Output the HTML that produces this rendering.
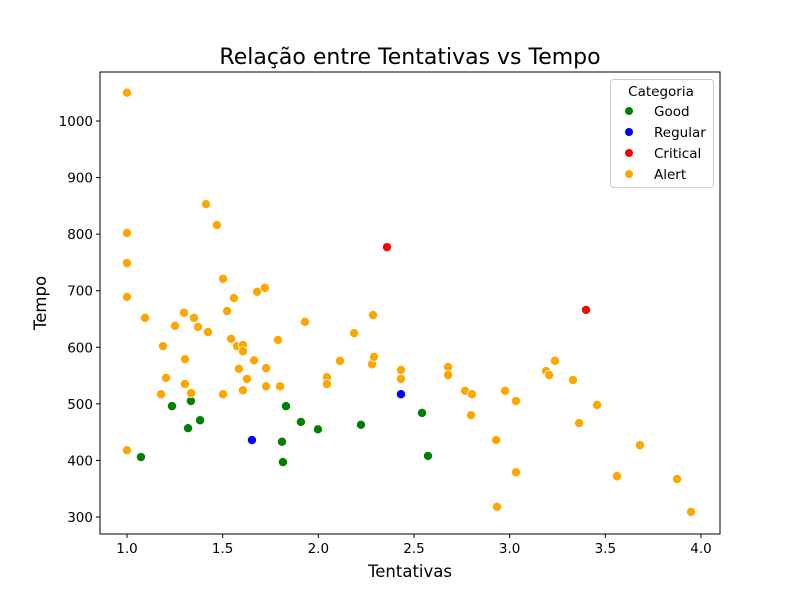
<!DOCTYPE html>
<html><head><meta charset="utf-8"><style>
body{margin:0;background:#fff;}
svg{display:block;font-family:"DejaVu Sans","Liberation Sans",sans-serif;}
</style></head><body>
<svg id="chart" width="800" height="600"></svg>
<script>
const goodX=[1.073,1.235,1.319,1.334,1.382,1.810,1.831,1.815,1.909,1.998,2.223,2.542,2.573];
const goodY=[406,496,457,505,471,433,496,397,468,455,463,484,408];
const regularX=[1.653,2.432];
const regularY=[436,517];
const criticalX=[2.359,3.399];
const criticalY=[777,666];
const alertX=[1.0,1.0,1.0,1.0,1.0,1.094,1.178,1.188,1.204,1.251,1.298,1.303,1.303,1.335,1.350,1.371,1.413,1.423,1.470,1.502,1.502,1.523,1.544,1.559,1.575,1.585,1.606,1.606,1.606,1.627,1.664,1.680,1.721,1.727,1.727,1.789,1.800,1.930,2.045,2.045,2.113,2.187,2.286,2.281,2.291,2.432,2.432,2.678,2.678,2.767,2.803,2.798,2.929,2.934,2.976,3.033,3.033,3.190,3.206,3.237,3.331,3.363,3.457,3.561,3.681,3.875,3.948];
const alertY=[1050,802,749,689,418,652,517,602,546,638,661,579,535,519,652,636,853,627,816,721,517,664,615,687,602,562,604,593,524,544,577,698,705,563,531,613,531,645,547,535,576,625,657,570,583,560,544,565,551,523,517,480,436,318,523,505,379,558,551,576,542,466,498,372,427,367,309];
const xTicks=[1.0,1.5,2.0,2.5,3.0,3.5,4.0];
const yTicks=[300,400,500,600,700,800,900,1000];
const series=[
 {name:'Good',color:'#008000',xs:goodX,ys:goodY},
 {name:'Regular',color:'#0000ff',xs:regularX,ys:regularY},
 {name:'Critical',color:'#ff0000',xs:criticalX,ys:criticalY},
 {name:'Alert',color:'#ffa500',xs:alertX,ys:alertY}
];
const NS='http://www.w3.org/2000/svg';
const svg=document.getElementById('chart');
const L=100,R=720,T=72,B=534;
function sx(v){return 127+(v-1)*191.33;}
function sy(v){return 121+(1000-v)*0.5657;}
function mk(tag,attrs,parent){const e=document.createElementNS(NS,tag);for(const k in attrs)e.setAttribute(k,attrs[k]);(parent||svg).appendChild(e);return e;}
const title=mk('text',{x:410,y:64,'text-anchor':'middle','font-size':22});
title.textContent='Relação entre Tentativas vs Tempo';


xTicks.forEach(t=>{
 const x=sx(t);
 const tk=mk('line',{x1:x,x2:x,y1:B,y2:B+4,stroke:'#000'});
 
 
 const lb=mk('text',{x:x,y:B+19,'text-anchor':'middle','font-size':13.5});
 lb.textContent=t.toFixed(1);
 
 
});
yTicks.forEach(t=>{
 const y=sy(t);
 const tk=mk('line',{x1:L-4,x2:L,y1:y,y2:y,stroke:'#000'});
 
 
 const lb=mk('text',{x:L-7,y:y+5,'text-anchor':'end','font-size':13.5});
 lb.textContent=t;
 
 
});
const xl=mk('text',{x:410,y:577,'text-anchor':'middle','font-size':16.5});
xl.textContent='Tentativas';


const yl=mk('text',{x:0,y:0,'text-anchor':'middle','font-size':16.5,transform:'translate(46,303) rotate(-90)'});
yl.textContent='Tempo';


series.forEach(s=>{
 const g=mk('g',{});
 
 
 s.xs.forEach((xv,i)=>{
  const c=mk('circle',{cx:sx(xv),cy:sy(s.ys[i]),r:4.6,fill:s.color,stroke:'#fff','stroke-width':0.8},g);
  
  
 });
});
const frame=mk('rect',{x:L,y:T,width:R-L,height:B-T,fill:'none',stroke:'#000','stroke-width':1});


const lg=mk('g',{});


mk('rect',{x:610.5,y:79.5,width:103,height:108,rx:3,fill:'#fff','fill-opacity':0.8,stroke:'#ccc'},lg);
const lt=mk('text',{x:661,y:96,'text-anchor':'middle','font-size':13.5},lg);
lt.textContent='Categoria';
series.forEach((s,i)=>{
 const y=111+i*21;
 const e=mk('g',{},lg);
 
 
 mk('circle',{cx:629,cy:y,r:4,fill:s.color},e);
 const t=mk('text',{x:654,y:y+5,'font-size':13.5},e);
 t.textContent=s.name;
});
</script>
</body></html>
